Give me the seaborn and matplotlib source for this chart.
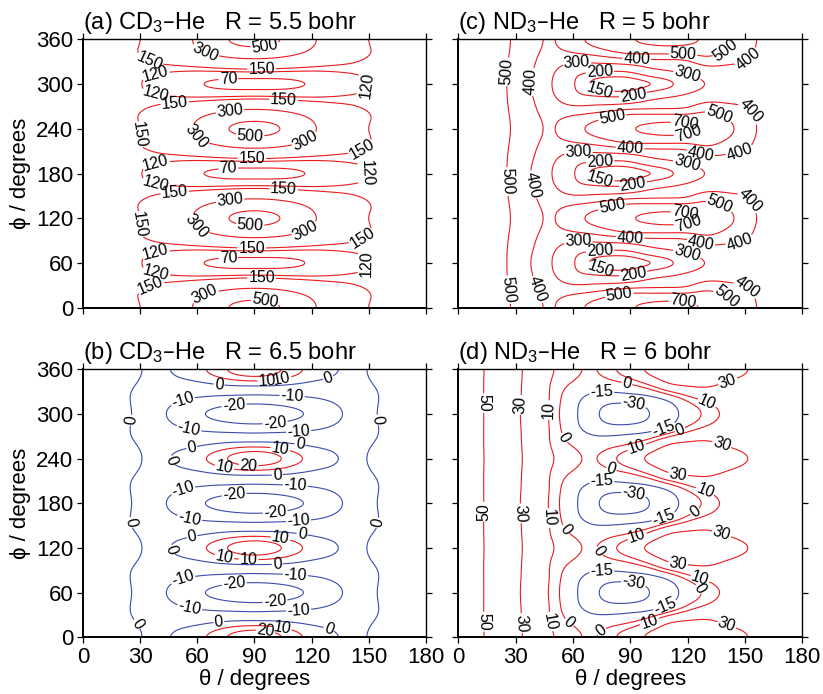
import numpy as np
import matplotlib
matplotlib.use("Agg")
import matplotlib.pyplot as plt
import seaborn as sns

# theta grid of the profiles (degrees)
theta_nodes = [0, 10, 20, 30, 40, 50, 60, 70, 80, 90, 100, 110, 120, 130, 140, 150, 160, 170, 180]
# profiles are read along phi = 0, 20, 40, 60 deg away from a maximum
phi_offsets = [0, 20, 40, 60]

# (a) CD3-He, R = 5.5 bohr  (cm-1)
a_phi0 = [135, 136, 140, 150, 182, 240, 325, 440, 522, 552, 522, 440, 325, 240, 182, 150, 140, 136, 135]
a_phi20 = [135, 136.5, 141, 151, 176, 210, 258, 315, 362, 379, 362, 315, 258, 210, 176, 151, 141, 136.5, 135]
a_phi40 = [135, 134, 132, 130, 131, 131, 133, 139, 146, 150, 146, 139, 133, 131, 131, 130, 132, 134, 135]
a_phi60 = [135, 133, 129, 121, 108, 92, 75, 63, 57, 56, 57, 63, 75, 92, 108, 121, 129, 133, 135]
a_levels = [70, 120, 150, 300, 500]

# (b) CD3-He, R = 6.5 bohr
b_phi0 = [3.2, 3.0, 1.9, 0.2, -1.2, 1.5, 6.5, 14.5, 23.5, 28, 23.5, 14.5, 6.5, 1.5, -1.2, 0.2, 1.9, 3.0, 3.2]
b_phi20 = [3.2, 2.8, 1.4, -0.5, -2.8, -3.0, -2.0, 0.2, 2.4, 3.2, 2.4, 0.2, -2.0, -3.0, -2.8, -0.5, 1.4, 2.8, 3.2]
b_phi40 = [3.2, 2.6, 1.2, -1.8, -6, -9, -11, -12.5, -13.5, -14, -13.5, -12.5, -11, -9, -6, -1.8, 1.2, 2.6, 3.2]
b_phi60 = [3.2, 2.8, 1.6, -2.0, -8, -13, -18, -22.5, -26.5, -28.5, -26.5, -22.5, -18, -13, -8, -2.0, 1.6, 2.8, 3.2]
b_levels = [-20, -10, 0, 10, 20]

# (c) ND3-He, R = 5 bohr
c_phi0 = [615, 595, 545, 482, 418, 398, 458, 525, 600, 680, 745, 780, 745, 655, 545, 445, 380, 358, 350]
c_phi20 = [615, 594, 543, 476, 410, 378, 385, 410, 450, 488, 492, 492, 497, 525, 470, 420, 372, 356, 350]
c_phi40 = [615, 593, 540, 468, 395, 315, 245, 230, 225, 238, 285, 315, 340, 372, 378, 375, 360, 352, 350]
c_phi60 = [615, 593, 538, 465, 382, 291, 207, 144, 125, 128, 149, 186, 250, 305, 330, 340, 345, 350, 350]
c_levels = [150, 200, 300, 400, 500, 700]

# (d) ND3-He, R = 6 bohr
d_phi0 = [62, 53.5, 43, 33.5, 22.5, 10, 2.7, -1.0, 6.8, 19, 33, 39, 42, 42, 38, 31, 25, 21.5, 20]
d_phi20 = [62, 53.5, 42.5, 33, 22, 7.5, -1.5, -7, -5, 0, 12, 28, 33, 33.5, 28, 24, 22, 20.5, 20]
d_phi40 = [62, 53.5, 42.5, 32.8, 21.5, 6, -9.5, -20, -24, -23, -20, -11, 4, 13.5, 17.5, 19.5, 20, 20, 20]
d_phi60 = [62, 53.5, 42.5, 32.5, 21, 5, -11.5, -25, -37, -39, -30, -21, -9, 3.5, 12.5, 17, 19, 20, 20]
d_levels = [-30, -15, 0, 10, 30, 50]

titles = ["(a) CD$_3$\u2013He   R = 5.5 bohr", "(b) CD$_3$\u2013He   R = 6.5 bohr",
          "(c) ND$_3$\u2013He   R = 5 bohr", "(d) ND$_3$\u2013He   R = 6 bohr"]
theta_ticks = [0, 30, 60, 90, 120, 150, 180]
phi_ticks = [0, 60, 120, 180, 240, 300, 360]

# where the contour labels sit (theta, phi)
a_label_at = [(36, 339), (64, 341), (95.6, 346.6), (37.8, 316.7), (93.8, 319), (76.3, 305.5),
              (148, 298.8), (37.8, 281), (48.3, 270.7), (105.2, 278.7), (77.2, 263), (31.7, 229.6),
              (59.7, 229.6), (87.7, 228.7), (116.6, 225), (144.6, 222.9), (37.8, 198.3), (88.6, 198.3),
              (76.3, 185), (148, 180.4), (37.8, 160.3), (48.3, 151.4), (105.2, 158), (77.2, 144.7),
              (31.7, 109), (59.7, 109), (87.7, 106.7), (116.6, 104.5), (144.6, 104.5), (37.8, 77.7),
              (88.6, 78.6), (76.3, 66.5), (148, 59.8), (37.8, 39.7), (93.8, 38.4), (36, 24),
              (64, 17.4), (95.6, 10.7)]
b_label_at = [(96.7, 348), (104.5, 345.7), (71.3, 335.9), (129, 346.6), (52, 321), (109.8, 325.6),
              (79.2, 314.4), (24.1, 292), (155.2, 292), (101, 283), (55.2, 274), (113.3, 273),
              (57, 256), (103.7, 256), (114, 260.6), (45.1, 236), (74, 224.8), (87, 229.3), (102, 216),
              (52, 202.4), (111.5, 206), (79.2, 194.4), (25, 154), (154.4, 154), (101, 164.3),
              (55.6, 153), (113.3, 152.3), (57.3, 135.2), (103.7, 133), (115, 139.7), (45.1, 116.4),
              (74, 103.9), (87, 107), (102, 94), (52, 82.4), (111.5, 83.7), (79.2, 74.8), (101, 43.4),
              (55.6, 33.1), (113.3, 32.2), (71.3, 21), (28.5, 18), (129, 10.7), (104.5, 14.3),
              (95.8, 7.6)]
c_label_at = [(117.7, 345.7), (140.4, 343.5), (151.7, 332.3), (24.4, 316.7), (37.5, 303), (62, 332.3),
              (74.1, 316.7), (93.3, 330), (119.5, 310), (74.1, 290), (91.6, 283), (137, 263),
              (151.7, 261), (81, 249.7), (118.6, 249.7), (120.4, 229.6), (127.3, 211.7), (89.8, 211.7),
              (147.4, 207.2), (62.8, 211.7), (74.1, 198.3), (119.5, 191.6), (24.4, 169.3), (38.4, 164.8),
              (74.1, 169.3), (91.6, 162.6), (81, 129), (118.6, 131.3), (137, 140.2), (150.9, 140.2),
              (120.4, 109), (127.3, 91.1), (89.8, 91.1), (147.4, 86.6), (62.8, 93.3), (74.1, 80),
              (119.5, 71), (74.1, 48.7), (91.6, 44.2), (26.2, 24.1), (41, 24.1), (84.6, 10.7),
              (117.7, 10.7), (140.4, 15.2), (150, 24.1)]
d_label_at = [(141.3, 341.2), (88.1, 339), (130, 314.4), (75, 327.8), (91.6, 310), (13.1, 314.4),
              (32.3, 312), (46.2, 305.4), (55, 267.4), (107.3, 280.8), (116, 278.5), (137.8, 258.4),
              (93.3, 256.2), (80.2, 227), (115.1, 220.3), (129, 195.7), (75, 209.1), (91.6, 191.2),
              (13.1, 168.8), (32.3, 166.6), (46.2, 160), (55.8, 144.2), (107.3, 162.1), (123.8, 168.8),
              (137.8, 139.7), (93.3, 137.5), (73.3, 115.1), (115.1, 101.7), (126.5, 79.3),
              (126.5, 65.8), (75, 90.5), (91.6, 70.3), (108.1, 43.4), (13.1, 21), (32.3, 18.8),
              (48, 21), (57.6, 18.8), (100.3, 18.8), (75, 7.6), (140.4, 16.6)]

RED = "#ea1b1f"
BLUE = "#3b4cad"


def spline(xn, yn, x):
    # natural cubic spline through the profile values
    xn = np.asarray(xn, float)
    yn = np.asarray(yn, float)
    n = len(xn)
    h = np.diff(xn)
    A = np.zeros((n, n))
    r = np.zeros(n)
    A[0, 0] = A[-1, -1] = 1.0
    for i in range(1, n - 1):
        A[i, i - 1] = h[i - 1]
        A[i, i] = 2 * (h[i - 1] + h[i])
        A[i, i + 1] = h[i]
        r[i] = 6 * ((yn[i + 1] - yn[i]) / h[i] - (yn[i] - yn[i - 1]) / h[i - 1])
    m = np.linalg.solve(A, r)
    k = np.clip(np.searchsorted(xn, x) - 1, 0, n - 2)
    t0 = xn[k + 1] - x
    t1 = x - xn[k]
    hk = h[k]
    return ((m[k] * t0 ** 3 + m[k + 1] * t1 ** 3) / (6 * hk)
            + (yn[k] / hk - m[k] * hk / 6) * t0 + (yn[k + 1] / hk - m[k + 1] * hk / 6) * t1)


def surface(p0, p20, p40, p60):
    th = np.linspace(0, 180, 361)
    ph = np.linspace(0, 360, 721)
    v0, v20, v40, v60 = (spline(theta_nodes, p, th) for p in (p0, p20, p40, p60))
    # cos(3k phi) series through the four phi samples
    c0 = (v0 + 2 * v20 + 2 * v40 + v60) / 6
    c3 = (v0 + v20 - v40 - v60) / 3
    c6 = (v0 - v20 - v40 + v60) / 3
    c9 = (v0 - 2 * v20 + 2 * v40 - v60) / 6
    P = np.radians(ph)[:, None]
    Z = (c0[None, :] + c3[None, :] * np.cos(3 * P) + c6[None, :] * np.cos(6 * P)
         + c9[None, :] * np.cos(9 * P))
    TH, PH = np.meshgrid(th, ph)
    return TH, PH, Z


sns.set_theme(style="ticks")
plt.rcParams["font.family"] = ["Liberation Sans", "DejaVu Sans"]
plt.rcParams["mathtext.default"] = "regular"
for key in ["text.color", "axes.labelcolor", "xtick.color", "ytick.color", "axes.edgecolor"]:
    plt.rcParams[key] = "black"

fig = plt.figure(figsize=(8.23, 6.94), dpi=100)
boxes = [[0.1009, 0.5566, 0.4165, 0.3867], [0.1009, 0.0817, 0.4165, 0.3862],
         [0.5569, 0.5566, 0.4180, 0.3867], [0.5569, 0.0817, 0.4180, 0.3862]]
panels = [(a_phi0, a_phi20, a_phi40, a_phi60, a_levels, a_label_at, lambda v: RED),
          (b_phi0, b_phi20, b_phi40, b_phi60, b_levels, b_label_at, lambda v: BLUE if v <= 0 else RED),
          (c_phi0, c_phi20, c_phi40, c_phi60, c_levels, c_label_at, lambda v: RED),
          (d_phi0, d_phi20, d_phi40, d_phi60, d_levels, d_label_at, lambda v: BLUE if v < 0 else RED)]

for i, (box, panel, title) in enumerate(zip(boxes, panels, titles)):
    p0, p20, p40, p60, levels, label_at, col = panel
    ax = fig.add_axes(box)
    TH, PH, Z = surface(p0, p20, p40, p60)
    cs = ax.contour(TH, PH, Z, levels=levels, colors=[col(v) for v in levels], linewidths=0.8)
    ax.clabel(cs, fmt="%d", fontsize=11.5, inline=True, inline_spacing=1,
              colors="black", manual=label_at)
    ax.set_xlim(0, 180)
    ax.set_ylim(0, 360)
    ax.set_xticks(theta_ticks)
    ax.set_yticks(phi_ticks)
    ax.tick_params(direction="out", length=4, width=0.9, top=True, right=True,
                   labelsize=16, pad=3, colors="black")
    for side in ["left", "bottom"]:
        ax.spines[side].set_linewidth(1.4)
    for side in ["top", "right"]:
        ax.spines[side].set_linewidth(1.0)
    if i in (0, 2):
        ax.tick_params(labelbottom=False)
    else:
        ax.set_xlabel("\u03b8 / degrees", fontsize=16, labelpad=1)
    if i in (2, 3):
        ax.tick_params(labelleft=False)
    else:
        ax.set_ylabel("\u03d5 / degrees", fontsize=16, labelpad=4)
    ax.text(0.0, 1.04, title, transform=ax.transAxes, ha="left", va="baseline", fontsize=17)

fig.savefig("out.png", dpi=100)
